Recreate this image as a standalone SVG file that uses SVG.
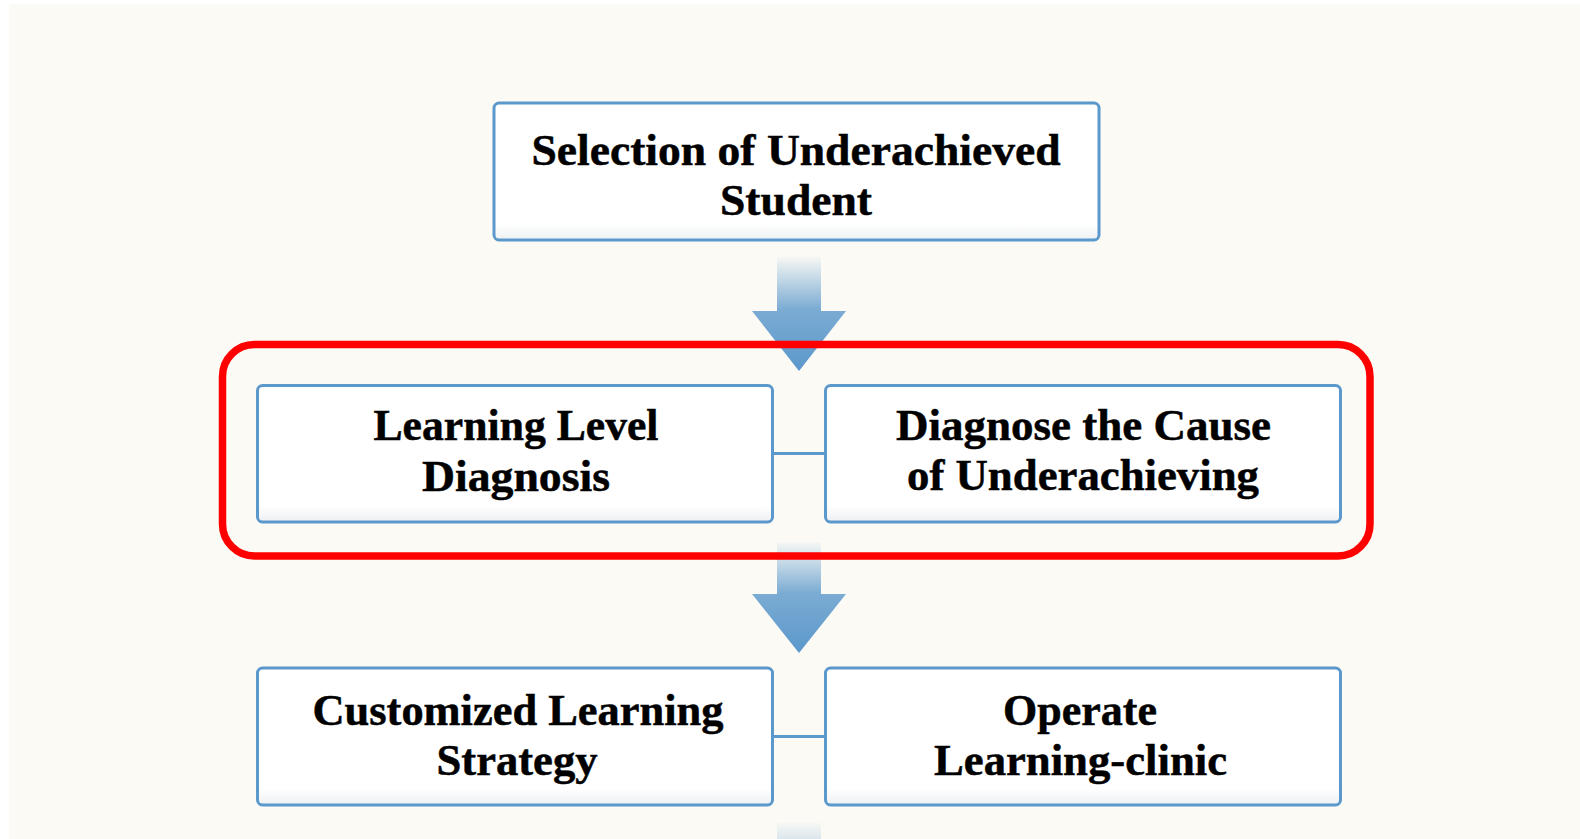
<svg xmlns="http://www.w3.org/2000/svg" width="1580" height="839" viewBox="0 0 1580 839">
  <style>
    .box { fill: url(#boxFill); stroke: #5B98CB; stroke-width: 3; }
    .lbl { font-family: "Liberation Serif", "Times New Roman", serif; font-weight: bold; font-size: 44px; fill: #000; stroke: #000; stroke-width: 0.5; text-anchor: middle; }
    .conn { stroke: #5B98CB; stroke-width: 3; fill: none; }
    .arrow { fill: url(#arrowFill); }
  </style>
  <defs>
    <linearGradient id="boxFill" x1="0" y1="0" x2="0" y2="1">
      <stop offset="0" stop-color="#FFFFFF"/>
      <stop offset="0.88" stop-color="#FFFFFF"/>
      <stop offset="1" stop-color="#EEF0F3"/>
    </linearGradient>
    <linearGradient id="arrowFill" x1="0" y1="0" x2="0" y2="1">
      <stop offset="0" stop-color="#5B98CB" stop-opacity="0.03"/>
      <stop offset="0.46" stop-color="#5B98CB" stop-opacity="0.8"/>
      <stop offset="1" stop-color="#5B98CB" stop-opacity="1"/>
    </linearGradient>
    <linearGradient id="stubFill" x1="0" y1="0" x2="0" y2="1">
      <stop offset="0" stop-color="#5B98CB" stop-opacity="0.03"/>
      <stop offset="1" stop-color="#5B98CB" stop-opacity="0.2"/>
    </linearGradient>
  </defs>

  <rect x="0" y="0" width="1580" height="839" fill="#FFFFFF"/>
  <rect x="9" y="4" width="1571" height="835" fill="#FBFAF5"/>

  <g id="arrows">
    <polygon class="arrow" points="777,257 821,257 821,311 846,311 799,371 752,311 777,311"/>
    <polygon class="arrow" points="777,542 821,542 821,594 846,594 799,653 752,594 777,594"/>
    <rect x="777" y="823" width="44" height="16" fill="url(#stubFill)"/>
  </g>

  <g id="connectors">
    <line class="conn" x1="772" y1="453.5" x2="826" y2="453.5"/>
    <line class="conn" x1="772" y1="736.5" x2="826" y2="736.5"/>
  </g>

  <g id="node-selection">
    <rect class="box" x="494" y="103" width="605" height="137" rx="5"/>
    <text class="lbl" x="796" y="165" textLength="529" lengthAdjust="spacingAndGlyphs">Selection of Underachieved</text>
    <text class="lbl" x="796" y="215" textLength="152" lengthAdjust="spacingAndGlyphs">Student</text>
  </g>

  <g id="node-level">
    <rect class="box" x="257.5" y="385.5" width="515" height="136.5" rx="5"/>
    <text class="lbl" x="516" y="440" textLength="285" lengthAdjust="spacingAndGlyphs">Learning Level</text>
    <text class="lbl" x="516" y="491" textLength="188" lengthAdjust="spacingAndGlyphs">Diagnosis</text>
  </g>

  <g id="node-cause">
    <rect class="box" x="825.5" y="385.5" width="515" height="136.5" rx="5"/>
    <text class="lbl" x="1083.5" y="440" textLength="375" lengthAdjust="spacingAndGlyphs">Diagnose the Cause</text>
    <text class="lbl" x="1083" y="490" textLength="352" lengthAdjust="spacingAndGlyphs">of Underachieving</text>
  </g>

  <g id="node-strategy">
    <rect class="box" x="257.5" y="668" width="515" height="137" rx="5"/>
    <text class="lbl" x="518" y="725" textLength="411" lengthAdjust="spacingAndGlyphs">Customized Learning</text>
    <text class="lbl" x="517" y="775" textLength="161" lengthAdjust="spacingAndGlyphs">Strategy</text>
  </g>

  <g id="node-clinic">
    <rect class="box" x="825.5" y="668" width="515" height="137" rx="5"/>
    <text class="lbl" x="1080" y="725" textLength="154" lengthAdjust="spacingAndGlyphs">Operate</text>
    <text class="lbl" x="1080.5" y="775" textLength="293" lengthAdjust="spacingAndGlyphs">Learning-clinic</text>
  </g>

  <g id="highlight">
    <rect x="222.5" y="344.5" width="1147.5" height="211.5" rx="32" fill="none" stroke="#FF0000" stroke-width="7.5"/>
  </g>
</svg>
